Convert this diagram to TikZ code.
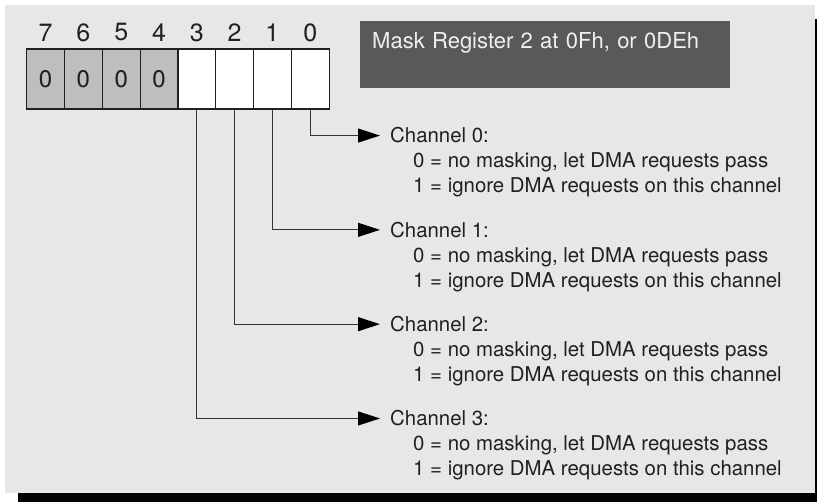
\documentclass[tikz,border=0pt]{standalone}
\usepackage{fontspec}
\setmainfont{TeX Gyre Heros}
\usetikzlibrary{arrows.meta, positioning}
\definecolor{panelgray}{HTML}{E6E7E8}
\definecolor{cellgray}{HTML}{BCBEC0}
\definecolor{titlegray}{HTML}{58595B}
\definecolor{inkblack}{HTML}{231F20}

\begin{document}
\begin{tikzpicture}[
        x=1pt, y=-1pt,
        cell/.style={
            draw=inkblack,
            line width=1.2pt,
            minimum width=37.8pt,
            minimum height=60pt,
            inner sep=0pt,
            font=\fontsize{24}{24}\selectfont
        },
        bitnum/.style={
            inner sep=0pt,
            font=\fontsize{25}{25}\selectfont
        },
        titlebox/.style={
            anchor=north west,
            fill=titlegray,
            text=white!94!black,
            text width=346pt,
            align=left,
            inner xsep=12pt,
            inner ysep=6.5pt,
            text height=20.5pt,
            text depth=33.5pt,
            font=\fontsize{22}{22}\selectfont
        },
        chead/.style={
            anchor=base west,
            inner sep=0pt,
            text=inkblack,
            font=\fontsize{20.4}{25}\selectfont
        },
        conn/.style={
            draw=black!80,
            line width=1.2pt,
            -{Triangle[length=22pt,width=14pt,color=black]},
            shorten >=10pt
        }
    ]
        \useasboundingbox (0,0) rectangle (817,502);
        \fill[white] (0,0) rectangle (817,502);

        % panel with its shadow
        \fill[black] (18,19) rectangle (817,502);
        \fill[panelgray] (5,5) rectangle (815,493);

        % register bits
        \foreach \b in {7,6,5,4}
            \node[cell, fill=cellgray, text=inkblack] (bit\b) at ({45.6+37.8*(7-\b)},79) {0};
        \foreach \b in {3,...,0}
            \node[cell, fill=white] (bit\b) at ({45.6+37.8*(7-\b)},79) {};
        \foreach \b in {0,...,7}
            \node[bitnum, text=inkblack] (num\b) at ([yshift=16pt]bit\b.north) {\b};

        \node[titlebox] (title) at (360,21) {\makebox[346pt][s]{Mask Register 2 at 0Fh, or 0DEh}};

        % channels
        \foreach \c in {0,...,3} {
            \pgfmathsetmacro\yb{143+94.3*\c}
            \node[chead] (ch\c) at (390,\yb) {Channel \c:};
            \node[chead] (nomask\c) at (413,\yb+25) {0 = no masking, let DMA requests pass};
            \node[chead] (ignore\c) at (413,\yb+50) {1 = ignore DMA requests on this channel};
            \draw[conn] (bit\c.south) |- (ch\c.west);
        }
    \end{tikzpicture}
\end{document}
